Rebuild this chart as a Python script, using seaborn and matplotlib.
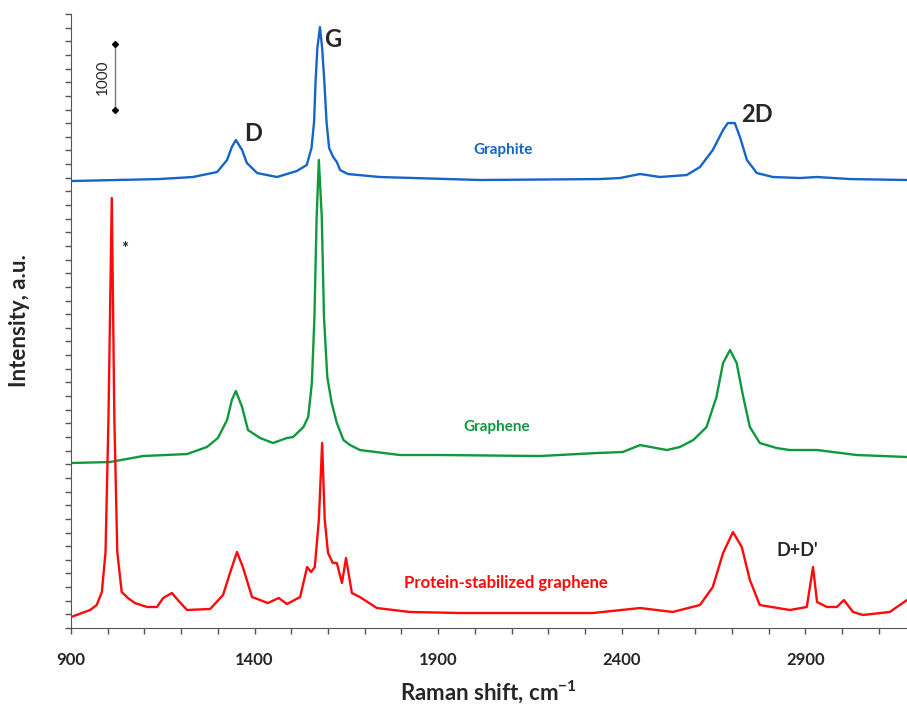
import numpy as np
import pandas as pd
import matplotlib
matplotlib.use('Agg')
import matplotlib.pyplot as plt
import seaborn as sns
from matplotlib.ticker import MultipleLocator

# Raman spectra (shift in cm-1, intensity in a.u., already offset)
graphite_x = [900, 1140, 1232, 1298, 1325, 1338, 1349, 1366, 1379, 1407, 1461, 1515, 1542,
              1555, 1562, 1566, 1571, 1578, 1584, 1590, 1596, 1603, 1614, 1624, 1633, 1654,
              1741, 2014, 2341, 2395, 2450, 2504, 2577, 2613, 2648, 2676, 2689, 2708, 2722,
              2741, 2768, 2812, 2885, 2932, 3021, 3177]
graphite_y = [6552, 6581, 6611, 6684, 6860, 7051, 7153, 7006, 6816, 6669, 6611, 6699, 6787,
              7036, 7417, 8003, 8502, 8809, 8502, 8003, 7417, 7036, 6904, 6831, 6713, 6655,
              6611, 6567, 6581, 6596, 6655, 6611, 6640, 6757, 7006, 7300, 7402, 7402, 7197,
              6860, 6669, 6611, 6596, 6611, 6581, 6567]

graphene_x = [900, 1006, 1096, 1216, 1270, 1300, 1325, 1338, 1349, 1366, 1382, 1415, 1450,
              1488, 1505, 1533, 1546, 1556, 1563, 1569, 1575, 1583, 1589, 1598, 1610, 1624,
              1642, 1660, 1687, 1796, 1905, 2177, 2332, 2403, 2450, 2523, 2558, 2595, 2631,
              2658, 2676, 2695, 2713, 2731, 2749, 2776, 2822, 2858, 2932, 3040, 3177]
graphene_y = [2419, 2433, 2521, 2550, 2653, 2785, 3049, 3342, 3474, 3239, 2902, 2785, 2712,
              2785, 2800, 2946, 3093, 3591, 4559, 6024, 6860, 6024, 4559, 3679, 3298, 3005,
              2756, 2682, 2609, 2536, 2536, 2521, 2565, 2580, 2682, 2609, 2653, 2756, 2946,
              3386, 3884, 4075, 3884, 3386, 2946, 2712, 2638, 2609, 2609, 2536, 2507]

protein_x = [900, 952, 970, 984, 994, 1002, 1011, 1018, 1026, 1038, 1055, 1074, 1107, 1134,
             1151, 1175, 1191, 1216, 1279, 1314, 1333, 1352, 1368, 1393, 1415, 1436, 1466,
             1488, 1524, 1543, 1554, 1564, 1575, 1584, 1591, 1600, 1613, 1624, 1638, 1649,
             1665, 1687, 1733, 1823, 1959, 2177, 2322, 2450, 2539, 2613, 2648, 2676, 2703,
             2727, 2749, 2776, 2858, 2904, 2921, 2932, 2959, 2986, 3005, 3030, 3057, 3130, 3177]
protein_y = [161, 264, 337, 528, 1114, 3078, 6303, 3078, 1114, 528, 440, 366, 308, 308,
             440, 513, 410, 264, 279, 484, 806, 1114, 894, 454, 410, 366, 440,
             352, 454, 894, 821, 894, 1583, 2712, 1591, 1099, 953, 953, 660, 1026,
             513, 454, 293, 235, 220, 220, 220, 293, 235, 337, 601, 1099, 1407,
             1187, 704, 337, 264, 308, 894, 381, 308, 308, 410, 235, 191, 235, 410]

names = ['Graphite', 'Graphene', 'Protein-stabilized graphene']
colors = ['#1565C8', '#0E9A3C', '#FF0A0A']
major_ticks = [900, 1400, 1900, 2400, 2900]

df = pd.concat([
    pd.DataFrame({'shift': graphite_x, 'intensity': graphite_y, 'sample': names[0]}),
    pd.DataFrame({'shift': graphene_x, 'intensity': graphene_y, 'sample': names[1]}),
    pd.DataFrame({'shift': protein_x, 'intensity': protein_y, 'sample': names[2]}),
], ignore_index=True)

sns.set_style('ticks')
plt.rcParams['font.family'] = ['Lato', 'DejaVu Sans']

fig = plt.figure(figsize=(9.07, 7.05), dpi=100)
ax = fig.add_axes([0.0783, 0.1092, 0.9217, 0.8709])

sns.lineplot(data=df, x='shift', y='intensity', hue='sample', palette=colors,
             estimator=None, sort=False, linewidth=1.7, legend=False, ax=ax)

ax.set_xlim(900, 3177)
ax.set_ylim(0, 9000)
ax.set_xticks(major_ticks)
ax.set_xticks(range(900, 3177, 100), minor=True)
ax.yaxis.set_major_locator(MultipleLocator(200))
ax.set_yticklabels([])
ax.tick_params(axis='x', which='both', length=4.5, width=1, color='#555555',
               labelsize=12, pad=13)
ax.tick_params(axis='y', length=4, width=1, color='#555555')
for lab in ax.get_xticklabels():
    lab.set_fontweight('bold')
for side in ['top', 'right']:
    ax.spines[side].set_visible(False)
for side in ['left', 'bottom']:
    ax.spines[side].set_color('#555555')

ax.set_xlabel('Raman shift, cm$^{\\mathregular{-1}}$', fontsize=16, fontweight='bold', labelpad=7)
ax.set_ylabel('Intensity, a.u.', fontsize=16, fontweight='bold', labelpad=22)

# peak labels
ax.text(1396, 7256, 'D', fontsize=17, fontweight='bold', ha='center', va='center')
ax.text(1614, 8630, 'G', fontsize=17, fontweight='bold', ha='center', va='center')
ax.text(2768, 7520, '2D', fontsize=17, fontweight='bold', ha='center', va='center')
ax.text(2877, 1143, "D+D'", fontsize=13, fontweight='bold', ha='center', va='center')
ax.text(1047, 5560, '*', fontsize=12, fontweight='bold', ha='center', va='center')

# sample labels
ax.text(2076, 7006, names[0], color=colors[0], fontsize=11, fontweight='bold', ha='center', va='center')
ax.text(2060, 2946, names[1], color=colors[1], fontsize=11, fontweight='bold', ha='center', va='center')
ax.text(2085, 660, names[2], color=colors[2], fontsize=12, fontweight='bold', ha='center', va='center')

# scale bar
ax.plot([1020, 1020], [7600, 8560], color='#777777', linewidth=1,
        marker='D', markersize=3, markerfacecolor='black', markeredgecolor='black')
ax.text(987, 8080, '1000', fontsize=11, rotation=90, ha='center', va='center')

plt.savefig('out.png', dpi=100)
